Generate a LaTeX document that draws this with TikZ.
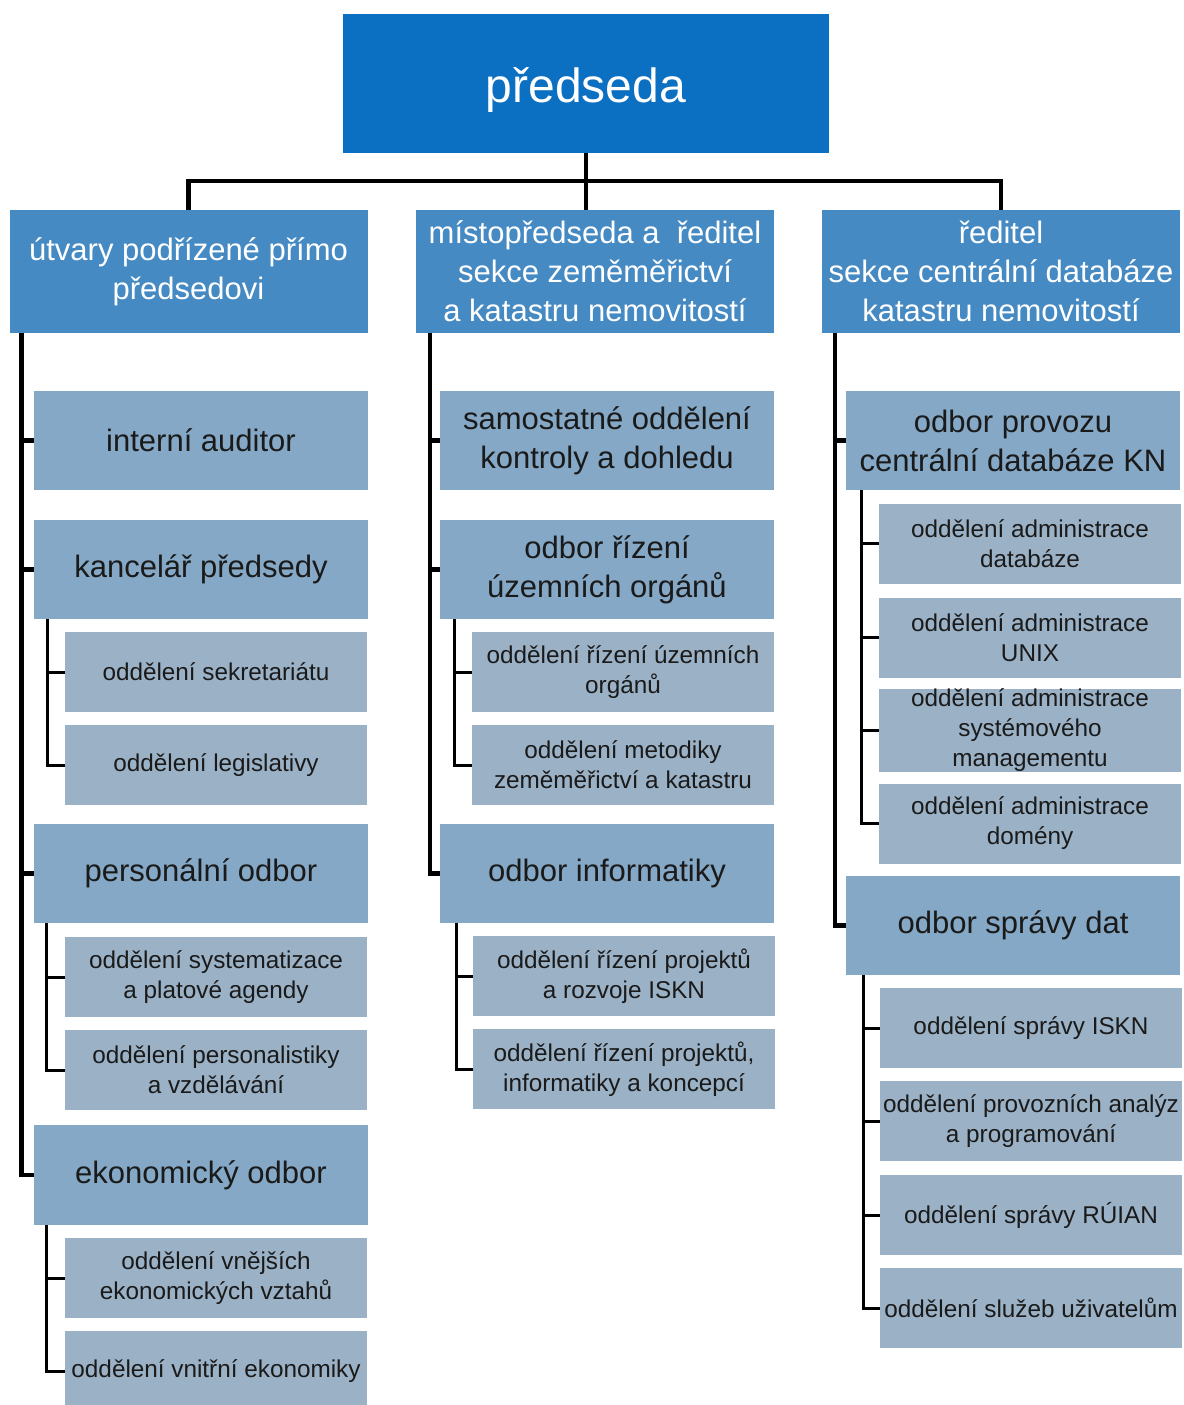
\documentclass[tikz,border=0pt]{standalone}
\usepackage{fontspec}
\setmainfont{Liberation Sans}
\definecolor{ctop}{HTML}{0B70C2}
\definecolor{cone}{HTML}{468AC3}
\definecolor{ctwo}{HTML}{84A8C5}
\definecolor{cthree}{HTML}{9AB1C6}
\definecolor{ctext}{HTML}{1A1A1A}
\tikzset{
  topbox/.style={fill=ctop, text=white, inner sep=0pt, align=center,
    font=\fontsize{48}{58}\selectfont},
  onebox/.style={fill=cone, text=white, inner sep=0pt, align=center,
    minimum width=358, minimum height=123, font=\fontsize{31}{39}\selectfont},
  twobox/.style={fill=ctwo, text=ctext, inner sep=0pt, align=center,
    minimum width=334, minimum height=99, font=\fontsize{31}{39}\selectfont},
  threebox/.style={fill=cthree, text=ctext, inner sep=0pt, align=center,
    minimum width=302, minimum height=80, font=\fontsize{24.3}{30}\selectfont},
  mainconn/.style={line width=4.5pt, black},
  subconn/.style={line width=3pt, black},
}
\begin{document}
\begin{tikzpicture}[x=1pt, y=-1pt]
\clip (0,0) rectangle (1183,1405);
\fill[white] (0,0) rectangle (1183,1405);

% top
\node[topbox, minimum width=486, minimum height=139] (top) at (586,83.5) {\raisebox{-19pt}[0pt][0pt]{předseda}};

% level 1
\node[onebox] (h1) at (188.5,271.5) {útvary podřízené přímo\\předsedovi};
\node[onebox] (h2) at (595,271.5) {místopředseda a \ ředitel\\sekce zeměměřictví\\a katastru nemovitostí};
\node[onebox] (h3) at (1001,271.5) {ředitel\\sekce centrální databáze\\katastru nemovitostí};

% left column
\node[twobox] (a1) at (201,440.5) {interní auditor};
\node[twobox] (a2) at (201,569.5) {kancelář předsedy};
\node[threebox] (a21) at (216,672) {oddělení sekretariátu};
\node[threebox] (a22) at (216,765) {oddělení legislativy};
\node[twobox] (a3) at (201,873.5) {personální odbor};
\node[threebox] (a31) at (216,977) {oddělení systematizace\\a platové agendy};
\node[threebox] (a32) at (216,1070) {oddělení personalistiky\\a vzdělávání};
\node[twobox, minimum height=100] (a4) at (201,1175) {ekonomický odbor};
\node[threebox] (a41) at (216,1278) {oddělení vnějších\\ekonomických vztahů};
\node[threebox] (a42) at (216,1371) {oddělení vnitřní ekonomiky};

% middle column
\node[twobox] (b1) at (607,440.5) {samostatné oddělení\\kontroly a dohledu};
\node[twobox] (b2) at (607,569.5) {odbor řízení\\územních orgánů};
\node[threebox] (b21) at (623,672) {oddělení řízení územních\\orgánů};
\node[threebox] (b22) at (623,765) {oddělení metodiky\\zeměměřictví a katastru};
\node[twobox] (b3) at (607,873.5) {odbor informatiky};
\node[threebox] (b31) at (624,976) {oddělení řízení projektů\\a rozvoje ISKN};
\node[threebox] (b32) at (624,1069) {oddělení řízení projektů,\\informatiky a koncepcí};

% right column
\node[twobox] (c1) at (1013,440.5) {odbor provozu\\centrální databáze KN};
\node[threebox] (c11) at (1030,543.5) {oddělení administrace\\databáze};
\node[threebox] (c12) at (1030,637.5) {oddělení administrace\\UNIX};
\node[threebox] (c13) at (1030,730.5) {oddělení administrace\\systémového\\managementu};
\node[threebox] (c14) at (1030,823.5) {oddělení administrace\\domény};
\node[twobox] (c2) at (1013,925.5) {odbor správy dat};
\node[threebox] (c21) at (1031,1028) {oddělení správy ISKN};
\node[threebox] (c22) at (1031,1121) {oddělení provozních analýz\\a programování};
\node[threebox] (c23) at (1031,1215) {oddělení správy RÚIAN};
\node[threebox] (c24) at (1031,1308) {oddělení služeb uživatelům};

% top connectors
\draw[mainconn] (top.south) -- ++(0,28) -| (h1.north);
\draw[mainconn] (top.south) -- ++(0,28) -| (h3.north);
\draw[mainconn] (top.south) -- (top.south |- h2.north);

% left spines
\foreach \n in {a1,a2,a3,a4}
  \draw[mainconn] ([xshift=12]h1.south west) |- (\n.west);
\foreach \n in {a21,a22}
  \draw[subconn] ([xshift=14]a2.south west) |- (\n.west);
\foreach \n in {a31,a32}
  \draw[subconn] ([xshift=13]a3.south west) |- (\n.west);
\foreach \n in {a41,a42}
  \draw[subconn] ([xshift=13]a4.south west) |- (\n.west);

% middle spines
\foreach \n in {b1,b2,b3}
  \draw[mainconn] ([xshift=14]h2.south west) |- (\n.west);
\foreach \n in {b21,b22}
  \draw[subconn] ([xshift=15]b2.south west) |- (\n.west);
\foreach \n in {b31,b32}
  \draw[subconn] ([xshift=17]b3.south west) |- (\n.west);

% right spines
\foreach \n in {c1,c2}
  \draw[mainconn] ([xshift=13]h3.south west) |- (\n.west);
\foreach \n in {c11,c12,c13,c14}
  \draw[subconn] ([xshift=16]c1.south west) |- (\n.west);
\foreach \n in {c21,c22,c23,c24}
  \draw[subconn] ([xshift=18]c2.south west) |- (\n.west);
\end{tikzpicture}
\end{document}
